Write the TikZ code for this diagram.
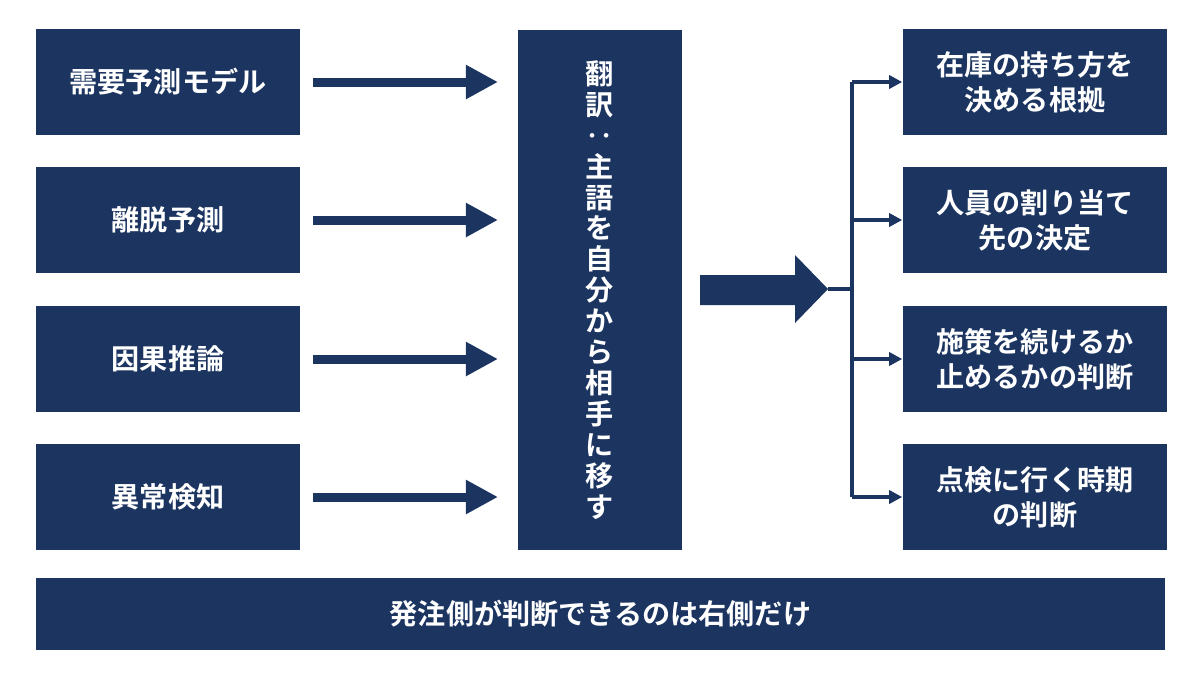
\documentclass[tikz,border=0pt]{standalone}
\usepackage{fontspec}
\newfontfamily\jp{Noto Sans CJK JP}[BoldFont={* Bold}]
\usetikzlibrary{arrows.meta}
\definecolor{navy}{HTML}{1B3460}
\tikzset{
  box/.style={fill=navy, text=white, minimum width=2.64cm, minimum height=1.05cm, align=center, font=\jp\bfseries\fontsize{8}{10}\selectfont, inner sep=0pt},
  feed/.style={navy, line width=0.9mm, -{Triangle[length=3.2mm,width=3.2mm]}},
  branch/.style={navy, line width=0.35mm, -{Triangle[length=1.3mm,width=1.3mm]}}
}
\begin{document}
\begin{tikzpicture}[x=0.01cm, y=-0.01cm]
\useasboundingbox (0,0) rectangle (1200,675);
\node (m1)[box] at (168,82) {需要予測モデル};
\node (m2)[box] at (168,220) {離脱予測};
\node (m3)[box] at (168,359) {因果推論};
\node (m4)[box] at (168,497) {異常検知};
\node (mid)[box, minimum width=1.64cm, minimum height=5.2cm, font=\jp\bfseries\fontsize{8}{8.8}\selectfont] at (600,290)
  {翻\\訳\\‥\\主\\語\\を\\自\\分\\か\\ら\\相\\手\\に\\移\\す};
\node (d1)[box] at (1035,82) {在庫の持ち方を\\決める根拠};
\node (d2)[box] at (1035,220) {人員の割り当て\\先の決定};
\node (d3)[box] at (1035,359) {施策を続けるか\\止めるかの判断};
\node (d4)[box] at (1035,497) {点検に行く時期\\の判断};
\node (bar)[box, minimum width=11.29cm, minimum height=0.72cm] at (600.5,614) {発注側が判断できるのは右側だけ};
\coordinate (a1) at (313,82);  \coordinate (b1) at (498,82);
\coordinate (a2) at (313,220); \coordinate (b2) at (498,220);
\coordinate (a3) at (313,359); \coordinate (b3) at (498,359);
\coordinate (a4) at (313,497); \coordinate (b4) at (498,497);
\draw[feed] (a1) -- (b1);
\draw[feed] (a2) -- (b2);
\draw[feed] (a3) -- (b3);
\draw[feed] (a4) -- (b4);
% big block arrow
\fill[navy] (700,275) -- (795,275) -- (795,255) -- (828,289) -- (795,323) -- (795,305) -- (700,305) -- cycle;
\coordinate (hub) at (852,289);
\draw[navy, line width=0.35mm] (828,289) -- (hub);
\draw[navy, line width=0.35mm] (852,82) -- (852,497);
\draw[branch] (852,82) -- (d1.west);
\draw[branch] (852,220) -- (d2.west);
\draw[branch] (852,359) -- (d3.west);
\draw[branch] (852,497) -- (d4.west);
\end{tikzpicture}
\end{document}
